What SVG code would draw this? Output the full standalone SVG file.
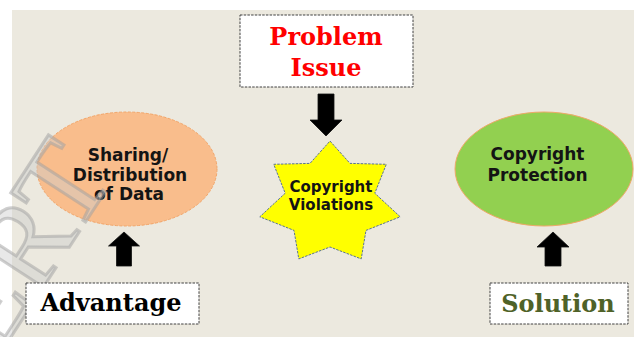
<svg xmlns="http://www.w3.org/2000/svg" width="634" height="337" viewBox="0 0 634 337">
  <style>
    .label-box { fill: #ffffff; stroke: #404040; stroke-width: 1; stroke-dasharray: 2.5 1.2; }
    .serif { font-family: "DejaVu Serif", "Liberation Serif", serif; font-weight: bold; font-size: 24px; text-anchor: middle; }
    .sans { font-family: "DejaVu Sans", Verdana, sans-serif; font-weight: bold; text-anchor: middle; fill: #141414; }
    .arrow { fill: #000000; stroke: #111111; stroke-width: 0.8; }
    .watermark { font-family: "Liberation Serif", "DejaVu Serif", serif; font-size: 120px; fill: #cccccc; fill-opacity: 0.45; stroke: #a0a0a0; stroke-opacity: 0.5; stroke-width: 3; }
  </style>

  <!-- page and panel background -->
  <rect x="0" y="0" width="634" height="337" fill="#ffffff"/>
  <rect x="12" y="10" width="622" height="327" fill="#ece9df"/>

  <!-- Sharing / Distribution of Data -->
  <g id="node-sharing">
    <ellipse cx="127" cy="169" rx="90" ry="57" fill="#f9bd8c" stroke="#f2a66a" stroke-width="1" stroke-dasharray="3 1.5"/>
    <text class="sans" font-size="17" x="128" y="161">Sharing/</text>
    <text class="sans" font-size="17" x="130" y="181">Distribution</text>
    <text class="sans" font-size="17" x="129" y="200">of Data</text>
  </g>

  <!-- faint stamp over the left margin -->
  <text class="watermark" transform="translate(-4,360) rotate(-57)">ERT</text>

  <!-- Problem / Issue -->
  <g id="node-problem">
    <rect class="label-box" x="240" y="15" width="173" height="72"/>
    <text class="serif" x="326" y="45" fill="#ff0000">Problem</text>
    <text class="serif" x="326" y="75.5" fill="#ff0000">Issue</text>
  </g>

  <!-- Copyright Violations -->
  <g id="node-violations">
    <polygon points="330,141 350,163.4 386.3,164.3 374.8,193.2 400.2,216.8 366,230.4 361.2,258.9 330,247 298.8,258.9 294,230.4 259.8,216.8 285.2,193.2 273.7,164.3 310,163.4"
             fill="#ffff00" stroke="#5a7394" stroke-width="1" stroke-dasharray="2.5 1.2"/>
    <text class="sans" font-size="15" x="331" y="192">Copyright</text>
    <text class="sans" font-size="15" x="331" y="210">Violations</text>
  </g>

  <!-- Copyright Protection -->
  <g id="node-protection">
    <ellipse cx="544" cy="169" rx="89" ry="57" fill="#92d050" stroke="#f0a868" stroke-width="1"/>
    <text class="sans" font-size="17" x="537.5" y="160">Copyright</text>
    <text class="sans" font-size="17" x="537.5" y="181">Protection</text>
  </g>

  <!-- Advantage -->
  <g id="node-advantage">
    <rect class="label-box" x="26" y="283" width="173" height="41"/>
    <text class="serif" x="111" y="311" fill="#000000">Advantage</text>
  </g>

  <!-- Solution -->
  <g id="node-solution">
    <rect class="label-box" x="490" y="283" width="138" height="41"/>
    <text class="serif" x="558" y="312" fill="#4f6228">Solution</text>
  </g>

  <!-- block arrows -->
  <g id="connectors">
    <path class="arrow" d="M318,94 H334 V120 H342 L326,136 L310,120 H318 Z"/>
    <path class="arrow" d="M124,232 L139.5,246 H131.5 V266 H116.5 V246 H108.5 Z"/>
    <path class="arrow" d="M553,232 L569,247 H561 V266 H545 V247 H537 Z"/>
  </g>
</svg>
